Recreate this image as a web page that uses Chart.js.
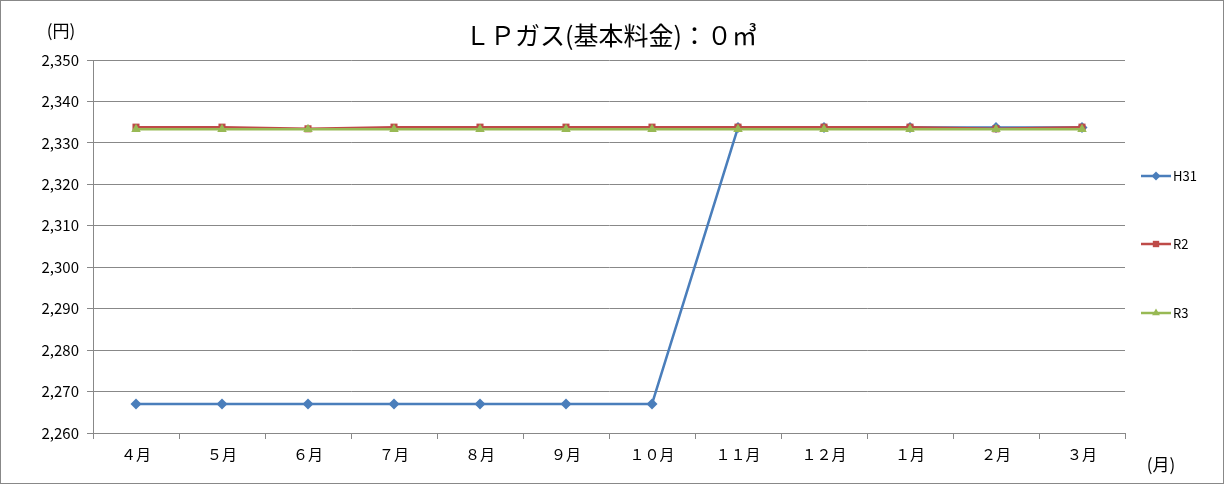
<!DOCTYPE html>
<html><head><meta charset="utf-8">
<script src="https://cdn.jsdelivr.net/npm/chart.js@4"></script>
<style>
html,body{margin:0;padding:0;background:#fff}
#wrap{position:relative;width:1222px;height:482px;border:1px solid #888}
</style></head><body>
<div id="wrap"><canvas id="c" width="1222" height="482"></canvas></div>
<script>
const months = ['４月','５月','６月','７月','８月','９月','１０月','１１月','１２月','１月','２月','３月'];
const h31 = [2267,2267,2267,2267,2267,2267,2267,2333.7,2333.7,2333.7,2333.7,2333.7];
const r2  = [2333.8,2333.8,2333.4,2333.8,2333.8,2333.8,2333.8,2333.8,2333.8,2333.8,2333.4,2333.8];
const r3  = [2333.3,2333.3,2333.3,2333.3,2333.3,2333.3,2333.3,2333.3,2333.3,2333.3,2333.3,2333.3];
const FONT = '"Noto Sans CJK JP", "Noto Sans", sans-serif';

const series = [
  { label: 'H31', data: h31, color: '#4a7ebb', style: 'rectRot', r: 5.5, order: 2 },
  { label: 'R2',  data: r2,  color: '#be4b48', style: 'rect', r: 5, order: 1 },
  { label: 'R3',  data: r3,  color: '#98b954', style: 'triangle', r: 5.5, order: 0 }
];

const extras = {
  id: 'extras',
  afterDraw(chart) {
    const { ctx } = chart;
    ctx.save();
    ctx.fillStyle = '#000';
    ctx.font = '25px ' + FONT;
    ctx.textAlign = 'center';
    ctx.textBaseline = 'middle';
    ctx.fillText('ＬＰガス(基本料金)：０㎥', 610, 34);
    ctx.font = '17px ' + FONT;
    ctx.fillText('(円)', 60, 30);
    ctx.fillText('(月)', 1160, 464);
    // legend
    const ys = [175, 243, 312];
    series.forEach((s, i) => {
      const y = ys[i];
      ctx.strokeStyle = s.color;
      ctx.lineWidth = 2.5;
      ctx.beginPath(); ctx.moveTo(1140, y); ctx.lineTo(1170, y); ctx.stroke();
      ctx.fillStyle = s.color;
      Chart.helpers.drawPoint(ctx, { pointStyle: s.style, radius: 4.5, borderWidth: 0 }, 1155, y);
      ctx.fillStyle = '#000';
      ctx.font = '13px ' + FONT;
      ctx.textAlign = 'left';
      ctx.fillText(s.label, 1172, y);
    });
    ctx.restore();
  }
};

new Chart(document.getElementById('c'), {
  type: 'line',
  data: {
    labels: months,
    datasets: series.map(s => ({
      label: s.label,
      data: s.data,
      order: s.order,
      borderColor: s.color,
      backgroundColor: s.color,
      borderWidth: 2.5,
      pointStyle: s.style,
      pointRadius: s.r,
      pointBorderWidth: 0,
      tension: 0
    }))
  },
  options: {
    responsive: false,
    animation: false,
    layout: { padding: { top: 59, right: 98, bottom: 14, left: 0 } },
    plugins: { legend: { display: false }, tooltip: { enabled: false } },
    scales: {
      x: {
        offset: true,
        grid: { display: true, drawOnChartArea: false, color: '#888', tickLength: 6, offset: true },
        border: { color: '#888' },
        ticks: { color: '#000', font: { family: FONT, size: 15 }, padding: 6 }
      },
      y: {
        min: 2260, max: 2350,
        afterFit(axis) { axis.width = 92; },
        grid: { color: '#888', tickLength: 6 },
        border: { color: '#888' },
        ticks: {
          stepSize: 10, color: '#000', padding: 8,
          font: { family: FONT, size: 15 },
          callback: v => v.toLocaleString('en-US')
        }
      }
    }
  },
  plugins: [extras]
});
</script>
</body></html>
